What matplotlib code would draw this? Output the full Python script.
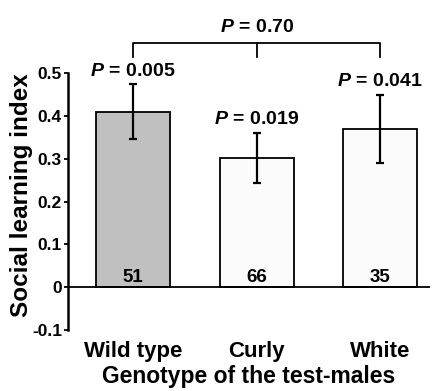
import numpy as np
import matplotlib.pyplot as plt

plt.rcParams['font.family'] = ['Liberation Sans', 'DejaVu Sans']
plt.rcParams['font.weight'] = 'bold'
plt.rcParams['mathtext.fontset'] = 'custom'
plt.rcParams['mathtext.it'] = 'Liberation Sans:italic:bold'
plt.rcParams['mathtext.rm'] = 'Liberation Sans:bold'
plt.rcParams['mathtext.bf'] = 'Liberation Sans:bold'

genotypes = ['Wild type', 'Curly', 'White']
index_mean = [0.41, 0.302, 0.37]
index_err = [0.064, 0.059, 0.08]
n_flies = [51, 66, 35]
p_values = ['0.005', '0.019', '0.041']
p_overall = '0.70'
bar_colors = ['#c0c0c0', '#fbfbfb', '#fbfbfb']

fig = plt.figure(figsize=(4.34, 3.91), dpi=100)
ax = fig.add_axes([0.157, 0.156, 0.833, 0.657])

x = np.arange(len(genotypes))
ax.bar(x, index_mean, width=0.6, color=bar_colors, edgecolor='black', linewidth=1.3, zorder=2)
ax.errorbar(x, index_mean, yerr=index_err, fmt='none', ecolor='black',
            elinewidth=1.6, capsize=3, capthick=1.6, zorder=3)
ax.axhline(0, color='black', linewidth=1.3, zorder=4)

for xi, m, e, p in zip(x, index_mean, index_err, p_values):
    ax.text(xi, m + e + 0.011, r'$\mathit{P}$ = ' + p, ha='center', va='bottom',
            fontsize=14, fontweight='bold')
for xi, n in zip(x, n_flies):
    ax.text(xi, 0.003, str(n), ha='center', va='bottom', fontsize=13.5, fontweight='bold')

# bracket across all three genotypes
yb, yt = 0.537, 0.570
ax.plot([x[0], x[0], x[-1], x[-1]], [yb, yt, yt, yb], color='black', lw=1.3, clip_on=False)
ax.plot([x[1], x[1]], [yt, yb], color='black', lw=1.3, clip_on=False)
ax.text(x[1], 0.587, r'$\mathit{P}$ = ' + p_overall, ha='center', va='bottom',
        fontsize=14, fontweight='bold')

ax.set_xlim(-0.526, 2.40)
ax.set_ylim(-0.1, 0.5)
ax.set_yticks([-0.1, 0, 0.1, 0.2, 0.3, 0.4, 0.5])
ax.set_yticklabels(['-0.1', '0', '0.1', '0.2', '0.3', '0.4', '0.5'])
ax.set_xticks(x)
ax.set_xticklabels(genotypes, fontsize=16)
ax.tick_params(axis='x', length=0, pad=8)
ax.tick_params(axis='y', labelsize=12.5, width=1.3, length=3, pad=1.5)
for s in ['top', 'right', 'bottom']:
    ax.spines[s].set_visible(False)
ax.spines['left'].set_linewidth(1.8)

ax.set_ylabel('Social learning index', fontsize=17.5, fontweight='bold')
ax.yaxis.set_label_coords(-0.098, 0.525)
ax.set_xlabel('Genotype of the test-males', fontsize=16.5, fontweight='bold', labelpad=2)

fig.savefig('out.png', dpi=100)
